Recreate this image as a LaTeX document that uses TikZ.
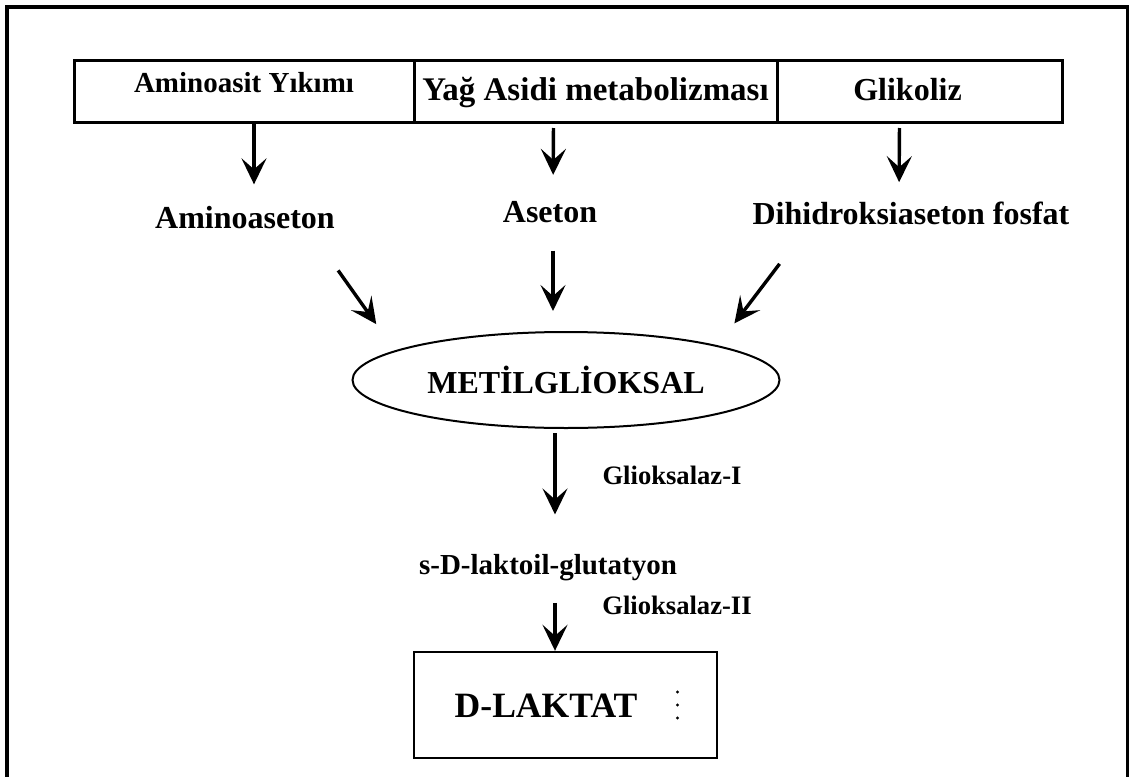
\documentclass[tikz,border=0pt]{standalone}
\usepackage{fontspec}
\setmainfont{Liberation Serif}
\usetikzlibrary{positioning,shapes.geometric,arrows.meta}
\begin{document}
\begin{tikzpicture}[x=0.5pt, y=-0.5pt,
  srcbox/.style={draw, line width=1.5pt, outer sep=0pt, inner sep=0pt},
  lbl/.style={inner sep=0pt, font=\bfseries\fontsize{16}{19}\selectfont},
  enz/.style={inner sep=0pt, font=\bfseries\fontsize{13.3}{16}\selectfont},
  arr/.style={line width=1.7pt, -{Stealth[length=13pt, width=12.5pt, inset=5.5pt]}}]
  \useasboundingbox (0,0) rectangle (1129,776);
  \begin{scope}
    \clip (0,0) rectangle (1129,776);
    \draw[line width=2pt] (7,6.5) rectangle (1128,800);
  \end{scope}
  \node[srcbox, anchor=north west, minimum width=170pt, text height=16pt, text depth=15pt,
    font=\bfseries\fontsize{14.5}{17}\selectfont] (yikim) at (74,60) {Aminoasit Yıkımı};
  \node[srcbox, right=0pt of yikim, minimum width=181.5pt, text height=20pt, text depth=11pt,
    font=\bfseries\fontsize{16.5}{19}\selectfont] (yag) {Yağ Asidi metabolizması};
  \node[srcbox, right=0pt of yag, minimum width=142.5pt, text height=20pt, text depth=11pt,
    font=\bfseries\fontsize{16}{19}\selectfont] (glikoliz) {Glikoliz\kern12pt};
  \node[lbl] (aminoaseton) at (245,218) {Aminoaseton};
  \node[lbl] (aseton) at (550,212) {Aseton};
  \node[lbl] (dihidro) at (911,213) {Dihidroksiaseton fosfat};
  \node[draw, ellipse, line width=1pt, minimum width=213.5pt, minimum height=48pt, inner sep=0pt,
    font=\bfseries\fontsize{16}{19}\selectfont] (metil) at (566,380) {METİLGLİOKSAL};
  \node[lbl, anchor=base, font=\bfseries\fontsize{14.5}{17}\selectfont] (laktoil) at (548,574) {s-D-laktoil-glutatyon};
  \node[enz] (glio1) at (672,475) {Glioksalaz-I};
  \node[enz] (glio2) at (677,605) {Glioksalaz-II};
  \node[draw, line width=1.2pt, minimum width=151.5pt, minimum height=53pt, inner sep=0pt,
    text height=12.5pt, text depth=0pt, font=\bfseries\fontsize{17.8}{21}\selectfont] (laktat) at (565.5,705)
    {D-LAKTAT\kern19.5pt};
  \foreach \dy in {-6.5,0,6.5}
    \fill ([xshift=56pt, yshift=\dy pt]laktat.center) circle (0.8pt);
  \draw[arr, shorten >=11pt] ([xshift=5pt]yikim.south) -- ([xshift=4.5pt]aminoaseton.north);
  \draw[arr, shorten <=3pt, shorten >=13pt] ([xshift=-21pt]yag.south) -- ([xshift=1.5pt]aseton.north);
  \draw[arr, shorten <=3pt, shorten >=9.5pt] ([xshift=-10pt]glikoliz.south) -- ([xshift=-6pt]dihidro.north);
  \draw[arr, shorten <=25pt, shorten >=13pt] ([xshift=-13pt]aminoaseton.south east) -- ([xshift=-11.5pt]metil.north west);
  \draw[arr, shorten <=13.7pt, shorten >=10pt] ([xshift=1.5pt]aseton.south) -- ([xshift=1.5pt]aseton.south |- metil.north);
  \draw[arr, shorten <=24.5pt, shorten >=13.8pt] ([xshift=28.5pt]dihidro.south west) -- (metil.north east);
  \draw[arr, shorten <=2pt, shorten >=19.5pt] ([xshift=-5.5pt]metil.south) -- ([xshift=3.5pt]laktoil.north);
  \draw[arr, shorten <=11pt] ([xshift=3.5pt]laktoil.south) -- ([xshift=-5.25pt]laktat.north);
\end{tikzpicture}
\end{document}
